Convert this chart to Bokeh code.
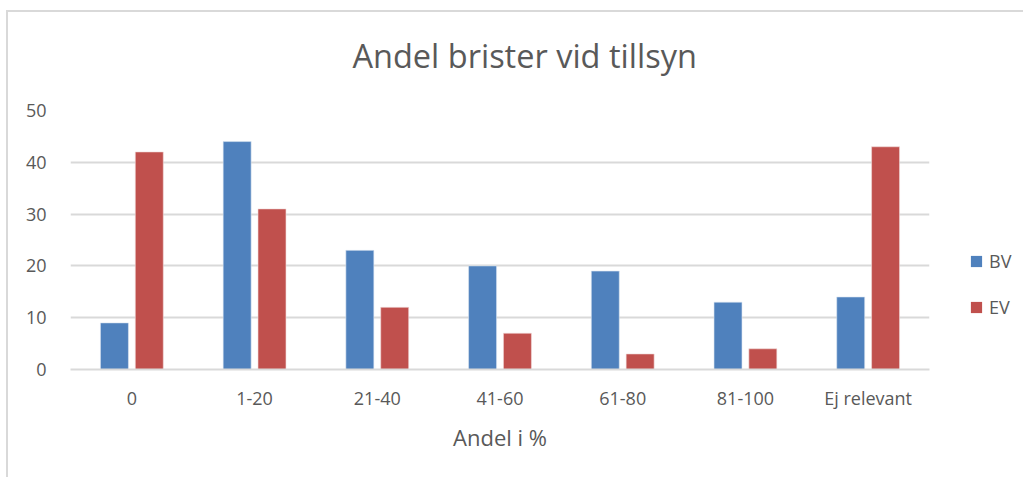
from bokeh.plotting import figure
from bokeh.models import FactorRange, Range1d, FixedTicker, Legend, LegendItem, Title, ColumnDataSource
from bokeh.layouts import row
from bokeh.transform import dodge
from bokeh.embed import file_html
from bokeh.resources import INLINE

categories = ["0", "1-20", "21-40", "41-60", "61-80", "81-100", "Ej relevant"]
bv = [9, 44, 23, 20, 19, 13, 14]
ev = [42, 31, 12, 7, 3, 4, 43]
y_ticks = [0, 10, 20, 30, 40, 50]
series_names = ["BV", "EV"]

src = ColumnDataSource(dict(cat=categories, bv=bv, ev=ev))

FONT = "Open Sans"
TXT = "#595959"
GRID = "#d9d9d9"
BLUE = "#4F81BD"
RED = "#C0504D"

p = figure(width=937, height=467, x_range=FactorRange(*categories, range_padding=0),
           y_range=Range1d(0, 50), output_backend="svg", toolbar_location=None,
           min_border_left=62, min_border_right=16, min_border_top=98, min_border_bottom=110)
p.styles = {"border-left": "2px solid #d9d9d9", "border-top": "2px solid #d9d9d9",
            "margin-left": "6px", "margin-top": "10px"}
p.title.text = ""

# spacer (closest to frame) then main title
spacer = Title(text=" ", text_font_size="1px", standoff=30)
p.add_layout(spacer, "above")
main_title = Title(text="Andel brister vid tillsyn", align="left", offset=282, standoff=0,
                   text_font=FONT, text_font_size="32.5px", text_font_style="normal",
                   text_color=TXT)
p.add_layout(main_title, "above")

r1 = p.vbar(x=dodge("cat", -0.142, range=p.x_range), top="bv", width=0.228, source=src,
            fill_color=BLUE, line_color="#dbe5f1", line_width=0.6)
r2 = p.vbar(x=dodge("cat", 0.142, range=p.x_range), top="ev", width=0.228, source=src,
            fill_color=RED, line_color="#f2dcdb", line_width=0.6)

p.outline_line_color = None
p.xgrid.grid_line_color = None
p.ygrid.grid_line_color = GRID
p.ygrid.grid_line_width = 2
p.yaxis.ticker = FixedTicker(ticks=y_ticks)

p.yaxis.axis_line_color = None
p.yaxis.major_tick_line_color = None
p.yaxis.minor_tick_line_color = None
p.yaxis.major_label_standoff = 18
p.yaxis.major_label_text_font = FONT
p.yaxis.major_label_text_font_size = "18px"
p.yaxis.major_label_text_color = TXT

p.xaxis.axis_line_color = GRID
p.xaxis.axis_line_width = 2
p.xaxis.major_tick_line_color = None
p.xaxis.minor_tick_line_color = None
p.xaxis.major_label_standoff = 10
p.xaxis.major_label_text_font = FONT
p.xaxis.major_label_text_font_size = "18px"
p.xaxis.major_label_text_color = TXT

xlabel = Title(text="Andel i %", align="center", standoff=15,
               text_font=FONT, text_font_size="22px", text_font_style="normal", text_color=TXT)
p.add_layout(xlabel, "below")

# legend in a small companion figure on the right (its bars lie far outside its view)
p2 = figure(width=80, height=467, x_range=FactorRange(*categories), y_range=Range1d(0, 50),
            output_backend="svg", toolbar_location=None,
            min_border_left=0, min_border_right=0, min_border_top=0, min_border_bottom=0)
p2.styles = {"border-top": "2px solid #d9d9d9", "margin-top": "10px"}
p2.axis.visible = False
p2.grid.visible = False
p2.outline_line_color = None
l1 = p2.vbar(x=dodge("cat", 100, range=p2.x_range), top="bv", width=0.5, source=src,
             fill_color=BLUE, line_color=None)
l2 = p2.vbar(x=dodge("cat", 100, range=p2.x_range), top="ev", width=0.5, source=src,
             fill_color=RED, line_color=None)

legend = Legend(items=[LegendItem(label=series_names[0], renderers=[l1]),
                       LegendItem(label=series_names[1], renderers=[l2])],
                location=(26, 50), orientation="vertical", padding=0, margin=0, spacing=22,
                glyph_width=14, glyph_height=14, label_height=24, label_standoff=6,
                label_text_font=FONT, label_text_font_size="18px", label_text_color=TXT,
                border_line_color=None, background_fill_alpha=0)
p2.add_layout(legend, "center")

layout = row(p, p2)
open("out.html", "w").write(file_html(layout, INLINE))
